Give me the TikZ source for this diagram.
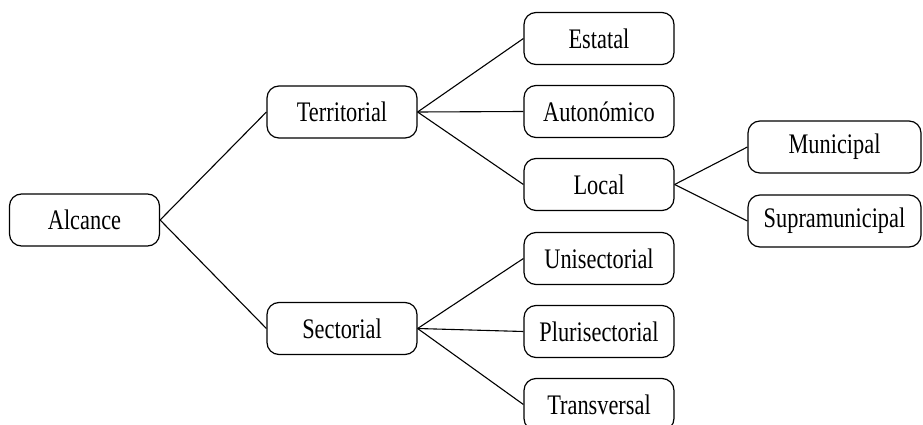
\documentclass[tikz,border=0pt]{standalone}
\usepackage{fontspec}
\setmainfont{Liberation Serif}[FakeStretch=0.79]
\begin{document}
\begin{tikzpicture}[x=1pt,y=-1pt,
  box/.style={draw, line width=1.2pt, rounded corners=12pt, minimum height=52pt,
    minimum width=150pt, inner sep=0pt,
    font=\fontsize{28.3}{34}\selectfont},
  widebox/.style={box, minimum width=173pt},
  link/.style={line width=1.1pt}]
\useasboundingbox (0,0) rectangle (923,425);
\clip (0,0) rectangle (923,425);

% root and first level
\node[box] (alc) at (84.5,220) {Alcance};
\node[box] (ter) at (342,112) {Territorial};
\node[box] (sec) at (342,328.5) {Sectorial};

% territorial branch
\node[box] (est) at (599,38.5) {Estatal};
\node[box] (aut) at (599,111.5) {Autonómico};
\node[box] (loc) at (599,184.5) {Local};
\node[widebox] (mun) at (834.5,147) {Municipal};
\node[widebox] (sup) at (834.5,221) {Supramunicipal};

% sectorial branch
\node[box] (uni) at (599,258.5) {Unisectorial};
\node[box] (plu) at (599,331.5) {Plurisectorial};
\node[box] (tra) at (599,404.5) {Transversal};

% connectors
\draw[link] (alc.east) -- (ter.west);
\draw[link] (alc.east) -- (sec.west);
\draw[link] (ter.east) -- (est.west);
\draw[link] (ter.east) -- (aut.west);
\draw[link] (ter.east) -- (loc.west);
\draw[link] (loc.east) -- (mun.west);
\draw[link] (loc.east) -- (sup.west);
\draw[link] (sec.east) -- (uni.west);
\draw[link] (sec.east) -- (plu.west);
\draw[link] (sec.east) -- (tra.west);
\end{tikzpicture}
\end{document}
